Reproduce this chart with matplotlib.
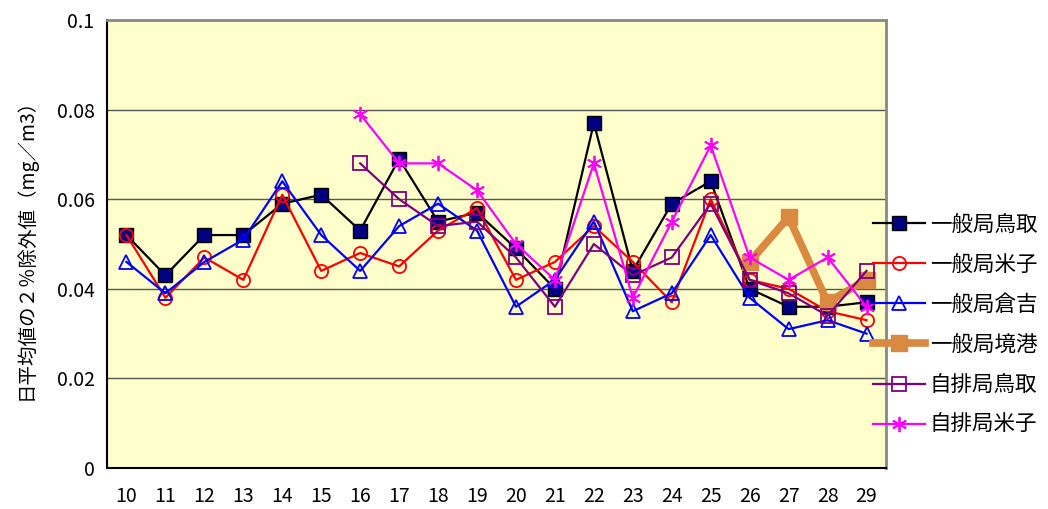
import numpy as np
import matplotlib
matplotlib.use('Agg')
import matplotlib.pyplot as plt

plt.rcParams['font.family'] = ['Noto Sans CJK JP', 'DejaVu Sans']

# 年度 (10-29)
years = [str(y) for y in range(10, 30)]

ippan_tottori = [0.052, 0.043, 0.052, 0.052, 0.059, 0.061, 0.053, 0.069, 0.055, 0.057,
                 0.049, 0.040, 0.077, 0.044, 0.059, 0.064, 0.040, 0.036, 0.036, 0.037]
ippan_yonago = [0.052, 0.038, 0.047, 0.042, 0.061, 0.044, 0.048, 0.045, 0.053, 0.058,
                0.042, 0.046, 0.054, 0.046, 0.037, 0.060, 0.042, 0.040, 0.035, 0.033]
ippan_kurayoshi = [0.046, 0.039, 0.046, 0.051, 0.064, 0.052, 0.044, 0.054, 0.059, 0.053,
                   0.036, 0.042, 0.055, 0.035, 0.039, 0.052, 0.038, 0.031, 0.033, 0.030]
ippan_sakaiminato = [None] * 16 + [0.046, 0.056, 0.037, 0.042]
jihai_tottori = [None] * 6 + [0.068, 0.060, 0.054, 0.055, 0.047, 0.036, 0.050, 0.043,
                              0.047, 0.059, 0.042, 0.039, 0.034, 0.044]
jihai_yonago = [None] * 6 + [0.079, 0.068, 0.068, 0.062, 0.050, 0.042, 0.068, 0.038,
                             0.055, 0.072, 0.047, 0.042, 0.047, 0.036]

def arr(v):
    return np.array([np.nan if x is None else x for x in v], dtype=float)

fig = plt.figure(figsize=(10.48, 5.09), dpi=100)
ax = fig.add_axes([0.1021, 0.0805, 0.7433, 0.8802])
ax.set_facecolor('#FFFFCC')

x = np.arange(len(years))
lw = 1.6
ax.plot(x, arr(ippan_tottori), color='black', lw=lw, marker='s', ms=9.5,
        mfc='#000080', mec='black', mew=1, label='一般局鳥取')
ax.plot(x, arr(ippan_yonago), color='#FF0000', lw=lw, marker='o', ms=9.5,
        mfc='none', mec='#FF0000', mew=1.3, label='一般局米子')
ax.plot(x, arr(ippan_kurayoshi), color='#0000FF', lw=lw, marker='^', ms=10,
        mfc='none', mec='#0000FF', mew=1.3, label='一般局倉吉')
ax.plot(x, arr(ippan_sakaiminato), color='#DA8A40', lw=5.5, marker='s', ms=12,
        mfc='#DA8A40', mec='#DA8A40', label='一般局境港')
ax.plot(x, arr(jihai_tottori), color='#800080', lw=lw, marker='s', ms=9.5,
        mfc='none', mec='#800080', mew=1.3, label='自排局鳥取')
ax.plot(x, arr(jihai_yonago), color='#FF00FF', lw=lw, marker=(6, 2, 0), ms=11,
        mec='#FF00FF', mew=1.3, label='自排局米子')

ax.set_xlim(-0.5, len(years) - 0.5)
ax.set_ylim(0, 0.1)
ax.set_xticks(x)
ax.set_xticklabels(years)
ax.set_yticks([0, 0.02, 0.04, 0.06, 0.08, 0.1])
ax.set_yticklabels(['0', '0.02', '0.04', '0.06', '0.08', '0.1'])
ax.tick_params(length=0, labelsize=14, pad=9)
ax.tick_params(axis='x', pad=13)
ax.grid(axis='y', color='#555555', lw=1)
ax.set_axisbelow(True)

for s in ['left', 'bottom']:
    ax.spines[s].set_color('black')
    ax.spines[s].set_linewidth(1.5)
for s in ['top', 'right']:
    ax.spines[s].set_color('#888888')
    ax.spines[s].set_linewidth(2)

ax.set_ylabel('日平均値の２％除外値（mg／m3）', fontsize=14, labelpad=14)

leg = fig.legend(loc='upper left', bbox_to_anchor=(0.8245, 0.597), frameon=False,
                 fontsize=15.5, handlelength=2.45, handletextpad=0.2,
                 labelspacing=0.84, borderaxespad=0)

fig.savefig('out.png', dpi=100)
